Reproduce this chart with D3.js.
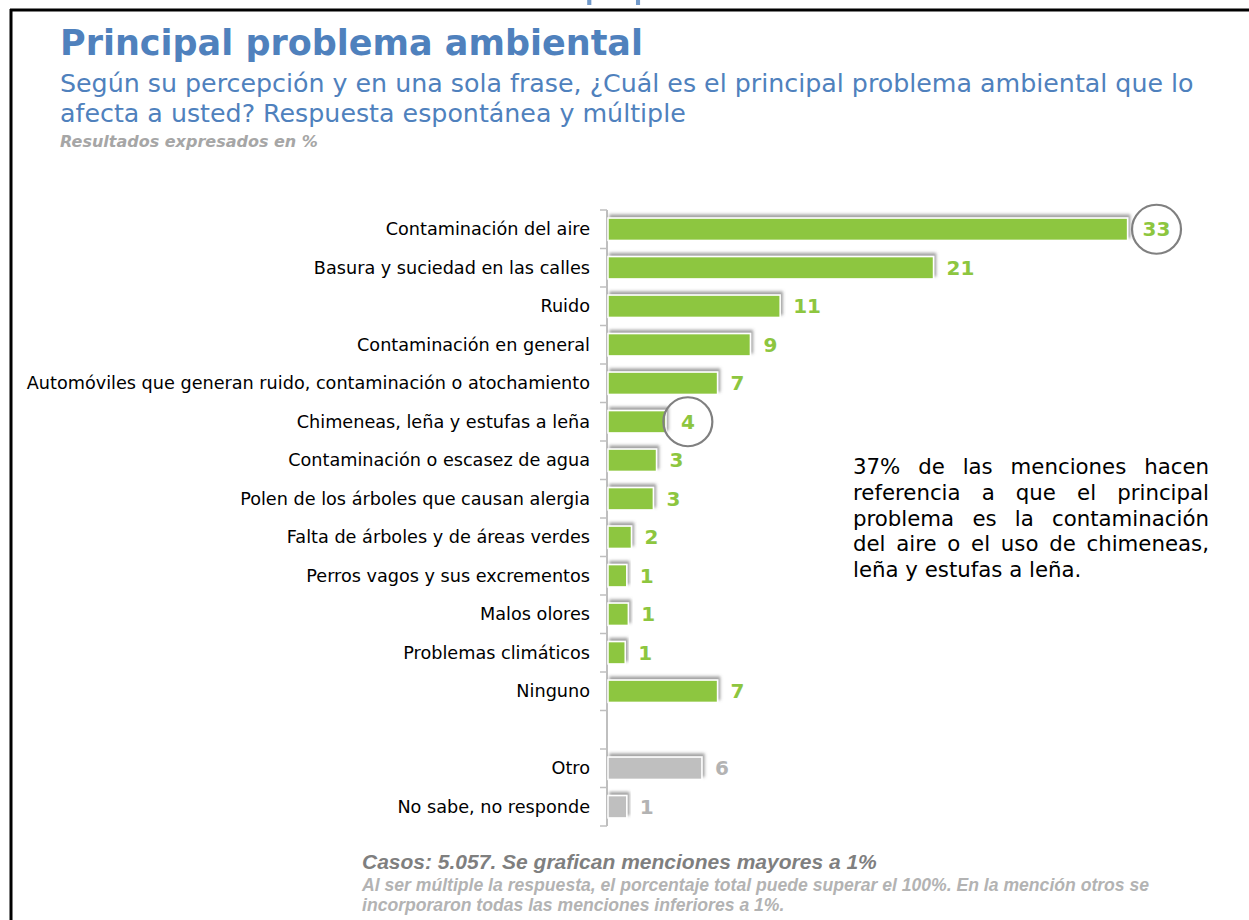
<!DOCTYPE html>
<html><head><meta charset="utf-8">
<script src="https://cdn.jsdelivr.net/npm/d3@7"></script>
<style>
html,body{margin:0;padding:0;background:#fff;}
svg{display:block;}
</style></head>
<body>
<svg id="chart" width="1249" height="920"></svg>
<script>
const categories = [
  "Contaminación del aire",
  "Basura y suciedad en las calles",
  "Ruido",
  "Contaminación en general",
  "Automóviles que generan ruido, contaminación o atochamiento",
  "Chimeneas, leña y estufas a leña",
  "Contaminación o escasez de agua",
  "Polen de los árboles que causan alergia",
  "Falta de árboles y de áreas verdes",
  "Perros vagos y sus excrementos",
  "Malos olores",
  "Problemas climáticos",
  "Ninguno",
  "",
  "Otro",
  "No sabe, no responde"
];
const values = [33.2, 20.8, 11, 9.1, 7, 3.7, 3.1, 2.9, 1.5, 1.2, 1.3, 1.1, 7, null, 6, 1.2];
const valueLabels = ["33","21","11","9","7","4","3","3","2","1","1","1","7","","6","1"];
const groups = ["main","main","main","main","main","main","main","main","main","main","main","main","main","gap","other","other"];
const circled = ["Contaminación del aire", "Chimeneas, leña y estufas a leña"];

const titleText = "Principal problema ambiental";
const subtitleLines = ["Según su percepción y en una sola frase, ¿Cuál es el principal problema ambiental que lo", "afecta a usted? Respuesta espontánea y múltiple"];
const unitNote = "Resultados expresados en %";
const noteLines = ["37% de las menciones hacen", "referencia a que el principal", "problema es la contaminación", "del aire o el uso de chimeneas,", "leña y estufas a leña."];
const footLines = ["Casos: 5.057. Se grafican menciones mayores a 1%", "Al ser múltiple la respuesta, el porcentaje total puede superar el 100%. En la mención otros se", "incorporaron todas las menciones inferiores a 1%."];

const svg = d3.select("#chart");
const SANS = "'DejaVu Sans',Verdana,sans-serif";
const COND = "'DejaVu Sans Condensed','DejaVu Sans',sans-serif";
const ARIAL = "'Liberation Sans',Arial,sans-serif";
const GREEN = "#8dc63f", GREY = "#bfbfbf", BLUE = "#4f81bd";

// filter
const defs = svg.append("defs");
const f = defs.append("filter").attr("id","sh").attr("x","-10%").attr("y","-60%").attr("width","130%").attr("height","200%");
f.append("feDropShadow").attr("dx",2).attr("dy",-3).attr("stdDeviation",1.8).attr("flood-color","#555").attr("flood-opacity",0.55);

// frame
svg.append("line").attr("x1",10).attr("x2",1249).attr("y1",10).attr("y2",10).attr("stroke","#000").attr("stroke-width",3);
svg.append("line").attr("x1",11).attr("x2",11).attr("y1",9).attr("y2",920).attr("stroke","#000").attr("stroke-width",3);
// cut-off heading at top (only its lowest pixels show)
svg.append("text").attr("x",637).attr("y",-1).attr("text-anchor","middle")
  .attr("font-family",COND).attr("font-weight","bold").attr("font-size",26).attr("fill",BLUE).attr("opacity",0.8)
  .text("Gráfico 3: Principal problema ambiental");

// titles
svg.append("text").attr("x",60).attr("y",55).attr("font-family",SANS).attr("font-weight","bold")
  .attr("font-size",35).attr("fill",BLUE).attr("textLength",583).attr("lengthAdjust","spacingAndGlyphs").text(titleText);
svg.selectAll("text.sub").data(subtitleLines).join("text").attr("class","sub")
  .attr("x",60).attr("y",(d,i)=>92+i*30).attr("font-family",SANS).attr("font-size",25.3).attr("fill",BLUE).text(d=>d);
svg.append("text").attr("x",60).attr("y",147).attr("font-family",SANS).attr("font-weight","bold").attr("font-style","italic")
  .attr("font-size",16).attr("fill","#a6a6a6").text(unitNote);

// scales
const y = d3.scaleBand().domain(categories.map((c,i)=>i)).range([210,826]).paddingInner(0.42).paddingOuter(0.21);
const x = d3.scaleLinear().domain([0,40]).range([608, 608+40*15.65]);

// axis
const axisG = svg.append("g");
axisG.append("line").attr("x1",607).attr("x2",607).attr("y1",210).attr("y2",826).attr("stroke","#bfbfbf").attr("stroke-width",2);
const tickYs = d3.range(categories.length+1).map(i=>210 + i*y.step());
axisG.selectAll("line.tk").data(tickYs).join("line").attr("class","tk")
  .attr("x1",600).attr("x2",607).attr("y1",d=>d).attr("y2",d=>d).attr("stroke","#bfbfbf").attr("stroke-width",1.5);

const rows = categories.map((c,i)=>({c,i,v:values[i],lab:valueLabels[i],g:groups[i]})).filter(d=>d.v!=null);

// category labels
svg.selectAll("text.cat").data(rows).join("text").attr("class","cat")
  .attr("x",590).attr("y",d=>y(d.i)+y.bandwidth()/2+6).attr("text-anchor","end")
  .attr("font-family",SANS).attr("font-size",17.65).attr("fill","#000").text(d=>d.c);

// bars
svg.selectAll("rect.bar").data(rows).join("rect").attr("class","bar")
  .attr("x",x(0)).attr("y",d=>y(d.i)).attr("width",d=>x(d.v)-x(0)).attr("height",y.bandwidth())
  .attr("fill",d=>d.g==="main"?GREEN:GREY).attr("stroke","#fff").attr("stroke-width",1.5)
  .attr("filter","url(#sh)");

// value labels
const vl = svg.selectAll("text.val").data(rows).join("text").attr("class","val")
  .attr("x",d=>x(d.v)+ (circled.includes(d.c)?15:13)).attr("y",d=>y(d.i)+y.bandwidth()/2+7)
  .attr("font-family",SANS).attr("font-weight","bold").attr("font-size",20)
  .attr("fill",d=>d.g==="main"?GREEN:"#b3b3b3").text(d=>d.lab);

// circles
vl.each(function(d){
  if(!circled.includes(d.c)) return;
  const b = this.getBBox();
  svg.append("circle").attr("cx",b.x+b.width/2).attr("cy",y(d.i)+y.bandwidth()/2).attr("r",24.5)
    .attr("fill","none").attr("stroke","#808080").attr("stroke-width",2.2);
});

// note (justified)
const nx0 = 853, nx1 = 1209;
noteLines.forEach((line,li)=>{
  const yy = 474 + li*25.8;
  const words = line.split(" ");
  const last = li===noteLines.length-1;
  if(last){
    svg.append("text").attr("x",nx0).attr("y",yy).attr("font-family",SANS).attr("font-size",21.3).attr("fill","#000").text(line);
    return;
  }
  const ts = words.map(w=>svg.append("text").attr("y",yy).attr("font-family",SANS).attr("font-size",21.3).attr("fill","#000").text(w));
  const ws = ts.map(t=>t.node().getComputedTextLength());
  const tot = d3.sum(ws);
  const gap = (nx1-nx0-tot)/(words.length-1);
  let cx = nx0;
  ts.forEach((t,k)=>{ t.attr("x",cx); cx += ws[k]+gap; });
});

// footnotes
svg.append("text").attr("x",362).attr("y",869).attr("font-family",ARIAL).attr("font-weight","bold").attr("font-style","italic")
  .attr("font-size",21).attr("fill","#7f7f7f").text(footLines[0]);
svg.selectAll("text.ft").data(footLines.slice(1)).join("text").attr("class","ft")
  .attr("x",362).attr("y",(d,i)=>891+i*20).attr("font-family",ARIAL).attr("font-weight","bold").attr("font-style","italic")
  .attr("font-size",17.6).attr("fill","#b3b3b3").text(d=>d);
</script>
</body></html>
